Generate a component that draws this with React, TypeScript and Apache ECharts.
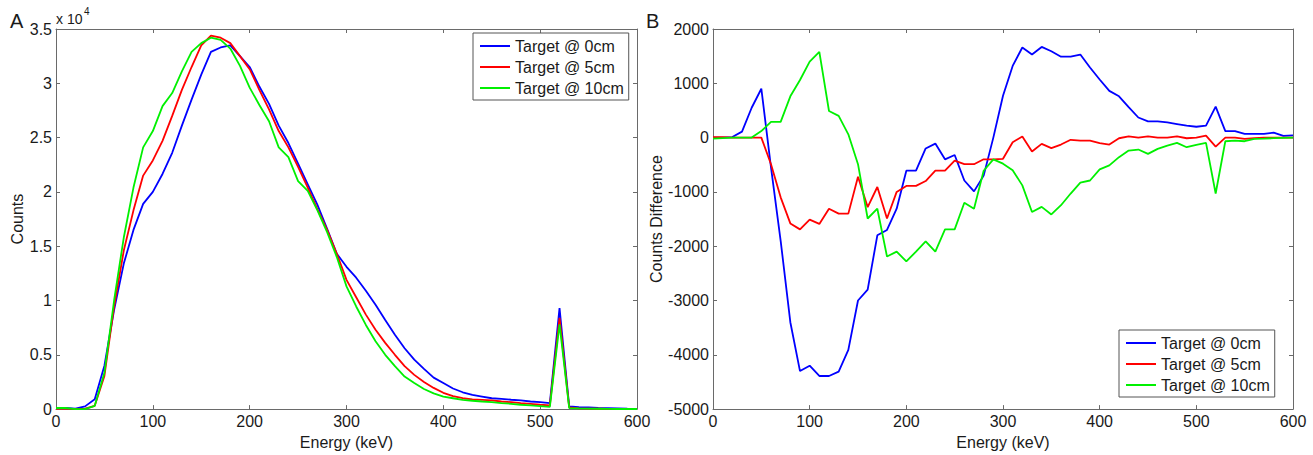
import React, { useEffect, useRef } from "react";
import * as echarts from "echarts";

const energies = [0, 10, 20, 30, 40, 50, 60, 70, 80, 90, 100, 110, 120, 130, 140, 150, 160, 170, 180, 190, 200, 210, 220, 230, 240, 250, 260, 270, 280, 290, 300, 310, 320, 330, 340, 350, 360, 370, 380, 390, 400, 410, 420, 430, 440, 450, 460, 470, 480, 490, 500, 510, 520, 530, 540, 550, 560, 570, 580, 590, 600];

const seriesNames = ["Target @ 0cm", "Target @ 5cm", "Target @ 10cm"];
const seriesColors = ["#0000ff", "#ff0000", "#00f000"];

// Panel A: counts
const countsBlue = [100, 100, 50, 250, 900, 4000, 9150, 13400, 16500, 18900, 20000, 21650, 23600, 26100, 28500, 30800, 32900, 33300, 33500, 32500, 31500, 29700, 28100, 26100, 24500, 22600, 20700, 18800, 16600, 14300, 13100, 12100, 10900, 9600, 8200, 6850, 5600, 4550, 3700, 2900, 2400, 1900, 1550, 1300, 1150, 1000, 950, 860, 800, 700, 640, 550, 9300, 250, 180, 150, 100, 80, 60, 30, 20];
const countsRed = [50, 50, 0, 50, 300, 3050, 9450, 14600, 18300, 21500, 22900, 24700, 27000, 29400, 31500, 33500, 34400, 34200, 33700, 32500, 31300, 29400, 27600, 25600, 24100, 22300, 20400, 18400, 16500, 14300, 11900, 10300, 8700, 7300, 6100, 5000, 3950, 3150, 2500, 1950, 1500, 1200, 1000, 900, 850, 800, 700, 640, 550, 490, 400, 340, 8400, 150, 60, 40, 30, 20, 10, 10, 10];
const countsGreen = [100, 100, 0, 0, 300, 3350, 10000, 15800, 20400, 24100, 25600, 27900, 29100, 31100, 32900, 33700, 34200, 34000, 33200, 31600, 29600, 28000, 26500, 24100, 23200, 21000, 20100, 18300, 16300, 14000, 11300, 9450, 7750, 6250, 5000, 3950, 3000, 2400, 1850, 1450, 1150, 1000, 850, 770, 700, 640, 550, 490, 400, 340, 280, 210, 7800, 90, 60, 40, 30, 20, 10, 10, 10];

// Panel B: counts difference
const diffBlue = [0, 0, 10, 110, 550, 900, -550, -1900, -3400, -4300, -4200, -4390, -4390, -4310, -3910, -3000, -2800, -1800, -1700, -1310, -610, -610, -200, -110, -400, -320, -790, -990, -700, 0, 770, 1320, 1660, 1530, 1670, 1590, 1490, 1490, 1530, 1290, 1070, 860, 760, 560, 370, 300, 300, 280, 250, 220, 200, 220, 570, 120, 120, 70, 70, 70, 90, 30, 40];
const diffRed = [10, 10, 0, 0, 0, 0, -490, -1100, -1580, -1690, -1510, -1590, -1310, -1400, -1400, -720, -1280, -910, -1490, -1000, -890, -890, -800, -610, -610, -425, -490, -490, -400, -400, -390, -85, 20, -256, -116, -195, -128, -40, -55, -55, -100, -128, -12, 24, 0, 24, 0, 0, 24, -12, 0, 37, -165, 0, 0, -24, -12, 0, 0, 0, 0];
const diffGreen = [-20, -10, 0, 0, 0, 120, 290, 290, 760, 1060, 1400, 1580, 490, 400, 60, -490, -1490, -1310, -2190, -2100, -2280, -2100, -1910, -2100, -1690, -1690, -1200, -1310, -610, -400, -480, -600, -880, -1370, -1275, -1415, -1245, -1030, -830, -790, -585, -512, -360, -238, -220, -300, -207, -146, -98, -177, -134, -98, -1030, -67, -55, -67, -24, -20, -10, -5, 0];

const FONT = "'Liberation Sans', Arial, Helvetica, sans-serif";
const AXIS_COLOR = "#6a6a6a";
const TEXT_COLOR = "#1a1a1a";
const FS = 16;

function mainX(gridIndex: number) {
  return {
    type: "value",
    gridIndex,
    min: 0,
    max: 600,
    interval: 100,
    position: "bottom",
    name: "Energy (keV)",
    nameLocation: "middle",
    nameGap: 21,
    nameTextStyle: { fontSize: FS, color: TEXT_COLOR, fontFamily: FONT },
    axisLine: { show: true, onZero: false, lineStyle: { color: AXIS_COLOR, width: 1 } },
    axisTick: { show: true, inside: true, length: 4, lineStyle: { color: AXIS_COLOR } },
    axisLabel: { show: true, fontSize: FS, color: TEXT_COLOR, fontFamily: FONT, margin: 4, showMinLabel: true, showMaxLabel: true, hideOverlap: false },
    splitLine: { show: false },
  };
}

function topX(gridIndex: number) {
  return {
    type: "value",
    gridIndex,
    min: 0,
    max: 600,
    interval: 100,
    position: "top",
    axisLine: { show: true, onZero: false, lineStyle: { color: AXIS_COLOR, width: 1 } },
    axisTick: { show: true, inside: true, length: 4, lineStyle: { color: AXIS_COLOR } },
    axisLabel: { show: false },
    splitLine: { show: false },
  };
}

function mainY(gridIndex: number, min: number, max: number, interval: number, name: string, nameGap: number, fmt: (v: number) => string) {
  return {
    type: "value",
    gridIndex,
    min,
    max,
    interval,
    position: "left",
    name,
    nameLocation: "middle",
    nameGap,
    nameTextStyle: { fontSize: FS, color: TEXT_COLOR, fontFamily: FONT },
    axisLine: { show: true, onZero: false, lineStyle: { color: AXIS_COLOR, width: 1 } },
    axisTick: { show: true, inside: true, length: 4, lineStyle: { color: AXIS_COLOR } },
    axisLabel: { show: true, fontSize: FS, color: TEXT_COLOR, fontFamily: FONT, margin: 4, formatter: fmt, showMinLabel: true, showMaxLabel: true },
    splitLine: { show: false },
  };
}

function rightY(gridIndex: number, min: number, max: number, interval: number) {
  return {
    type: "value",
    gridIndex,
    min,
    max,
    interval,
    position: "right",
    axisLine: { show: true, onZero: false, lineStyle: { color: AXIS_COLOR, width: 1 } },
    axisTick: { show: true, inside: true, length: 4, lineStyle: { color: AXIS_COLOR } },
    axisLabel: { show: false },
    splitLine: { show: false },
  };
}

function makeSeries(name: string, color: string, values: number[], axisIndex: number) {
  return {
    type: "line",
    name,
    xAxisIndex: axisIndex,
    yAxisIndex: axisIndex,
    data: energies.map((e, i) => [e, values[i]]),
    symbol: "none",
    lineStyle: { color, width: 1.8 },
    itemStyle: { color },
    z: 3,
  };
}

function legendAt(left: number, top: number) {
  return {
    orient: "vertical",
    left,
    top,
    icon: "rect",
    itemWidth: 30,
    itemHeight: 2,
    itemGap: 5,
    padding: [5, 5, 4, 7],
    borderColor: "#555",
    borderWidth: 1,
    backgroundColor: "#fff",
    textStyle: { fontSize: FS, color: TEXT_COLOR, fontFamily: FONT },
    data: seriesNames,
    selectedMode: false,
  };
}

export default function App() {
  const ref = useRef<HTMLDivElement>(null);

  useEffect(() => {
    if (!ref.current) return;
    const chart = echarts.init(ref.current, undefined, { renderer: "svg" });
    const option = {
      animation: false,
      backgroundColor: "#ffffff",
      grid: [
        { left: 56, top: 29, width: 581, height: 382 },
        { left: 713, top: 29, width: 580, height: 384 },
      ],
      xAxis: [mainX(0), topX(0), mainX(1), topX(1)],
      yAxis: [
        mainY(0, 0, 35000, 5000, "Counts", 31, (v: number) => String(v / 10000)),
        rightY(0, 0, 35000, 5000),
        mainY(1, -5000, 2000, 1000, "Counts Difference", 49, (v: number) => String(v)),
        rightY(1, -5000, 2000, 1000),
      ],
      legend: [legendAt(473, 33), legendAt(1119, 330)],
      series: [
        makeSeries(seriesNames[0], seriesColors[0], countsBlue, 0),
        makeSeries(seriesNames[1], seriesColors[1], countsRed, 0),
        makeSeries(seriesNames[2], seriesColors[2], countsGreen, 0),
        makeSeries(seriesNames[0], seriesColors[0], diffBlue, 2),
        makeSeries(seriesNames[1], seriesColors[1], diffRed, 2),
        makeSeries(seriesNames[2], seriesColors[2], diffGreen, 2),
      ],
      graphic: [
        { type: "text", left: 10, top: 11, style: { text: "A", fontSize: 20, fill: TEXT_COLOR, fontFamily: FONT } },
        { type: "text", left: 56, top: 12, style: { text: "x 10", fontSize: 14, fill: TEXT_COLOR, fontFamily: FONT } },
        { type: "text", left: 84, top: 6, style: { text: "4", fontSize: 10, fill: TEXT_COLOR, fontFamily: FONT } },
        { type: "text", left: 646, top: 11, style: { text: "B", fontSize: 20, fill: TEXT_COLOR, fontFamily: FONT } },
      ],
    };
    chart.setOption(option as any);
    return () => chart.dispose();
  }, []);

  return (
    <div
      ref={ref}
      style={{ position: "fixed", left: 0, top: 0, width: 1313, height: 455, background: "#fff" }}
    />
  );
}
